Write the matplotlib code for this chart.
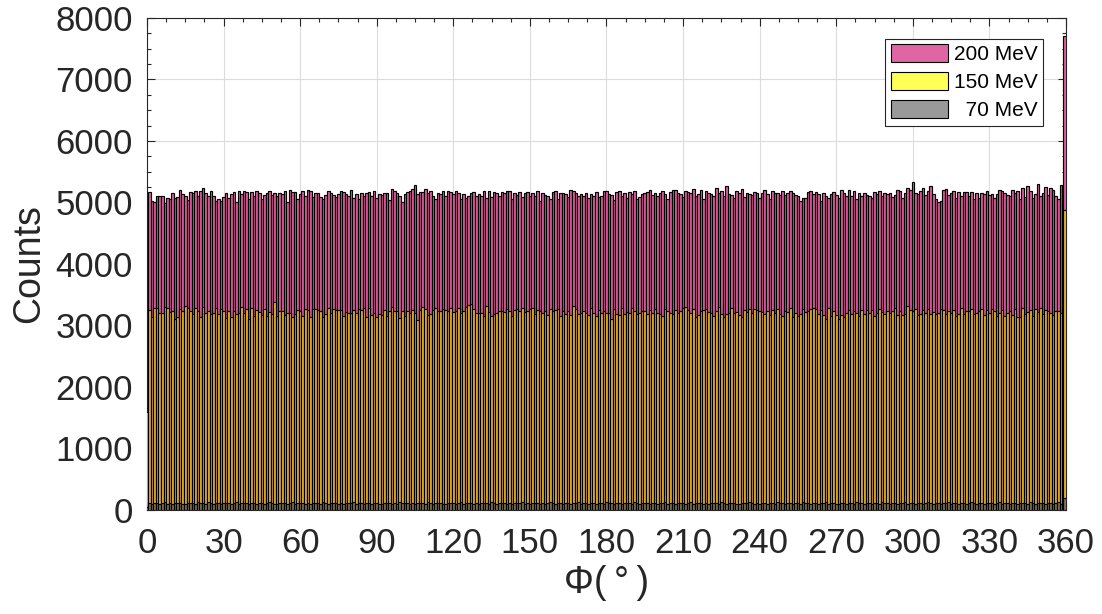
import numpy as np
import matplotlib.pyplot as plt
from matplotlib.patches import Patch
from matplotlib.ticker import MultipleLocator

plt.rcParams['font.family'] = ['Liberation Sans', 'DejaVu Sans']

# Центры бинов (градусы)
phi = np.arange(0, 361)

# 200 MeV
counts_200 = [2600,
    5170, 5020, 5000, 5100, 5100, 5110, 4990, 5080, 5050, 5160,
    5080, 5090, 5200, 5140, 5110, 5040, 5170, 5150, 5190, 5100,
    5180, 5240, 5160, 5110, 5180, 5110, 5020, 5060, 5020, 5090,
    5160, 5080, 5130, 5170, 5010, 5190, 5140, 5190, 5170, 5050,
    5170, 5100, 5190, 5160, 5050, 5120, 5150, 5190, 5120, 5160,
    5100, 5150, 5140, 5190, 5000, 5200, 5170, 5170, 5050, 5140,
    5180, 5110, 5200, 5190, 5090, 5160, 5150, 5090, 5050, 5120,
    5190, 5150, 5120, 5090, 5130, 5190, 5170, 5130, 5110, 5200,
    5080, 5130, 5050, 5150, 5110, 5160, 5170, 5100, 5180, 5070,
    5130, 5120, 5160, 5150, 5040, 5220, 5190, 5160, 5100, 5010,
    5140, 5170, 5180, 5220, 5280, 5140, 5170, 5170, 5220, 5150,
    5190, 5100, 5050, 5150, 5130, 5180, 5100, 5190, 5170, 5140,
    5180, 5160, 5050, 5130, 5070, 5110, 5160, 5170, 5100, 5140,
    5110, 5180, 5070, 5180, 5090, 5170, 5150, 5110, 5170, 5150,
    5180, 5180, 5060, 5160, 5120, 5170, 5090, 5150, 5170, 5110,
    5160, 5110, 5180, 5020, 5150, 5120, 5100, 5060, 5170, 5190,
    5050, 5150, 5150, 5140, 5090, 5200, 5180, 5160, 5100, 5140,
    5110, 5160, 5080, 5140, 5100, 5170, 5090, 5110, 5180, 5190,
    5130, 5120, 5040, 5170, 5190, 5110, 5150, 5080, 5170, 5130,
    5180, 5050, 5090, 5130, 5160, 5170, 5200, 5120, 5160, 5100,
    5150, 5190, 5140, 5060, 5170, 5200, 5210, 5160, 5130, 5090,
    5180, 5170, 5150, 5220, 5110, 5140, 5200, 5060, 5190, 5150,
    5140, 5100, 5230, 5160, 5180, 5110, 5270, 5140, 5120, 5070,
    5180, 5150, 5220, 5090, 5160, 5130, 5120, 5170, 5160, 5080,
    5150, 5210, 5140, 5060, 5190, 5160, 5150, 5120, 5190, 5120,
    5160, 5190, 5150, 5120, 5100, 5020, 5070, 5080, 5170, 5180,
    5140, 5170, 5130, 5020, 5150, 5100, 5080, 5140, 5170, 5120,
    5080, 5200, 5160, 5110, 5200, 5100, 5190, 5050, 5160, 5110,
    5160, 5120, 5110, 5080, 5170, 5140, 5190, 5100, 5150, 5130,
    5150, 5090, 5120, 5210, 5190, 5080, 5150, 5230, 5210, 5330,
    5150, 5140, 5180, 5240, 5120, 5190, 5270, 5140, 5060, 5000,
    5020, 5200, 5220, 5120, 5160, 5180, 5080, 5170, 5110, 5170,
    5170, 5110, 5170, 5050, 5150, 5080, 5160, 5130, 5190, 5120,
    5130, 5080, 5140, 5200, 5180, 5150, 5120, 5100, 5200, 5150,
    5180, 5050, 5230, 5090, 5260, 5180, 5070, 5140, 5300, 5110,
    5150, 5250, 5120, 5240, 5200, 5110, 5060, 5280, 5250, 7700]

# 150 MeV
counts_150 = [1600,
    3250, 3130, 3280, 3290, 3200, 3200, 3300, 3280, 3220, 3240,
    3110, 3130, 3260, 3240, 3310, 3280, 3230, 3180, 3280, 3230,
    3140, 3300, 3200, 3230, 3190, 3200, 3280, 3190, 3260, 3230,
    3120, 3240, 3130, 3230, 3190, 3210, 3300, 3210, 3270, 3100,
    3280, 3150, 3250, 3220, 3170, 3270, 3160, 3220, 3190, 3380,
    3160, 3240, 3230, 3170, 3200, 3210, 3140, 3180, 3250, 3230,
    3150, 3260, 3250, 3130, 3270, 3260, 3250, 3240, 3140, 3190,
    3290, 3200, 3270, 3250, 3250, 3250, 3160, 3220, 3210, 3200,
    3250, 3200, 3260, 3250, 3280, 3130, 3280, 3170, 3200, 3140,
    3180, 3170, 3250, 3160, 3240, 3300, 3230, 3240, 3120, 3240,
    3160, 3230, 3210, 3250, 3200, 3090, 3250, 3300, 3260, 3170,
    3190, 3250, 3280, 3240, 3230, 3260, 3250, 3230, 3290, 3220,
    3240, 3290, 3210, 3240, 3300, 3330, 3350, 3260, 3210, 3210,
    3210, 3160, 3320, 3220, 3150, 3180, 3200, 3230, 3240, 3220,
    3270, 3230, 3160, 3250, 3270, 3240, 3290, 3220, 3230, 3260,
    3290, 3190, 3250, 3240, 3200, 3230, 3170, 3260, 3230, 3250,
    3270, 3150, 3230, 3180, 3240, 3170, 3310, 3260, 3180, 3200,
    3230, 3200, 3170, 3280, 3210, 3150, 3250, 3200, 3240, 3210,
    3200, 3100, 3260, 3180, 3170, 3280, 3190, 3220, 3210, 3280,
    3240, 3180, 3210, 3230, 3240, 3180, 3250, 3210, 3260, 3200,
    3190, 3160, 3270, 3240, 3210, 3180, 3250, 3200, 3240, 3290,
    3300, 3250, 3210, 3260, 3140, 3170, 3240, 3250, 3270, 3220,
    3200, 3160, 3240, 3300, 3180, 3130, 3180, 3210, 3280, 3200,
    3220, 3170, 3130, 3250, 3220, 3270, 3200, 3260, 3250, 3230,
    3220, 3190, 3240, 3170, 3250, 3200, 3270, 3190, 3160, 3240,
    3220, 3290, 3140, 3200, 3150, 3180, 3260, 3220, 3240, 3260,
    3290, 3260, 3180, 3250, 3170, 3110, 3280, 3160, 3230, 3170,
    3100, 3170, 3140, 3210, 3250, 3190, 3240, 3200, 3160, 3250,
    3180, 3250, 3210, 3250, 3150, 3200, 3270, 3220, 3190, 3240,
    3200, 3240, 3280, 3170, 3230, 3170, 3180, 3310, 3250, 3240,
    3260, 3170, 3190, 3250, 3210, 3260, 3190, 3220, 3180, 3200,
    3260, 3250, 3190, 3240, 3210, 3250, 3160, 3190, 3290, 3180,
    3240, 3230, 3270, 3190, 3210, 3230, 3270, 3170, 3250, 3200,
    3270, 3230, 3160, 3200, 3250, 3160, 3210, 3240, 3170, 3260,
    3130, 3140, 3280, 3190, 3220, 3250, 3160, 3260, 3220, 3290,
    3180, 3250, 3240, 3200, 3170, 3230, 3240, 3200, 3310, 4870]

# 70 MeV
counts_70 = [55,
    110, 100, 115, 120, 105, 110, 125, 100, 110, 105,
    115, 120, 110, 100, 105, 115, 110, 120, 100, 125,
    110, 115, 105, 130, 110, 100, 120, 110, 105, 115,
    120, 110, 105, 110, 125, 100, 115, 110, 120, 105,
    110, 115, 100, 120, 110, 105, 115, 125, 110, 100,
    105, 120, 110, 115, 100, 110, 125, 105, 110, 120,
    115, 100, 110, 105, 120, 110, 115, 100, 125, 110,
    105, 115, 110, 120, 100, 110, 105, 115, 120, 110,
    125, 100, 110, 115, 105, 120, 110, 100, 115, 110,
    105, 90, 110, 120, 115, 100, 110, 105, 125, 110,
    115, 120, 100, 110, 105, 115, 120, 110, 100, 125,
    110, 105, 115, 120, 110, 100, 105, 115, 110, 120,
    100, 110, 125, 105, 110, 115, 120, 100, 110, 105,
    115, 120, 110, 100, 125, 110, 105, 115, 110, 120,
    105, 110, 100, 115, 120, 110, 125, 105, 110, 100,
    115, 110, 120, 105, 110, 100, 115, 125, 110, 105,
    120, 110, 100, 115, 110, 105, 120, 110, 125, 100,
    110, 115, 105, 120, 110, 100, 115, 110, 105, 125,
    110, 120, 100, 115, 110, 105, 120, 110, 115, 100,
    125, 110, 105, 115, 120, 110, 100, 110, 115, 105,
    120, 110, 125, 100, 115, 110, 105, 120, 110, 115,
    100, 110, 125, 105, 110, 120, 115, 100, 110, 105,
    115, 120, 110, 100, 125, 110, 105, 115, 120, 110,
    100, 105, 115, 110, 120, 125, 110, 100, 115, 105,
    110, 120, 100, 115, 110, 105, 125, 110, 120, 100,
    115, 110, 105, 120, 110, 100, 125, 115, 110, 105,
    120, 110, 100, 115, 110, 125, 105, 110, 120, 100,
    90, 110, 115, 105, 120, 110, 100, 125, 110, 115,
    105, 120, 110, 100, 115, 110, 105, 125, 110, 120,
    100, 115, 110, 105, 120, 110, 125, 100, 115, 110,
    105, 120, 110, 100, 115, 125, 110, 105, 120, 110,
    100, 115, 110, 125, 105, 120, 110, 100, 115, 110,
    105, 120, 125, 110, 100, 115, 110, 105, 120, 110,
    115, 100, 110, 125, 105, 120, 110, 100, 115, 110,
    105, 120, 110, 115, 100, 125, 110, 105, 120, 110,
    115, 100, 110, 120, 105, 110, 125, 100, 115, 195]

labels = ['200 MeV', '150 MeV', '  70 MeV']
bar_colors = ['#E35EA2', '#E6B22E', '#7E7250']
legend_colors = ['#E066A3', '#FFFF55', '#999999']

# крайние бины шире, чтобы было видно половинку у краёв
widths = np.ones(len(phi))
widths[0] = 2.0
widths[-1] = 2.0

fig = plt.figure(figsize=(11.02, 6.14), dpi=100)
ax = fig.add_axes([0.1334, 0.1694, 0.8339, 0.8013])

for i, c in enumerate([counts_200, counts_150, counts_70]):
    ax.bar(phi, c, width=widths, color=bar_colors[i], edgecolor='black',
           linewidth=0.85, zorder=2 + i)

ax.set_xlim(0, 360)
ax.set_ylim(0, 8000)
ax.xaxis.set_major_locator(MultipleLocator(30))
ax.xaxis.set_minor_locator(MultipleLocator(7.5))
ax.yaxis.set_major_locator(MultipleLocator(1000))
ax.yaxis.set_minor_locator(MultipleLocator(250))
ax.grid(True, which='major', color='#DCDCDC', linewidth=0.8, zorder=0)
ax.set_axisbelow(True)

ax.tick_params(which='both', direction='in', top=True, right=True,
               colors='#262626', labelsize=25, width=0.8)
ax.tick_params(which='major', length=6)
ax.tick_params(which='minor', length=3)
ax.tick_params(axis='x', pad=12)
ax.tick_params(axis='y', pad=10)
for s in ax.spines.values():
    s.set_color('#262626')
    s.set_linewidth(0.8)

ax.set_xlabel('Φ(\u2009°\u2009)', fontsize=27, color='#262626', labelpad=4)
ax.set_ylabel('Counts', fontsize=27, color='#262626', labelpad=6)

handles = [Patch(facecolor=legend_colors[i], edgecolor='black', linewidth=0.8)
           for i in range(3)]
leg = ax.legend(handles, labels, loc='upper right',
                bbox_to_anchor=(1043 / 1102, 1 - 39 / 614),
                bbox_transform=fig.transFigure, fontsize=15,
                handlelength=2.75, handleheight=0.95, labelspacing=0.38,
                handletextpad=0.3, borderpad=0.25, borderaxespad=0,
                fancybox=False, framealpha=1, edgecolor='#262626')
leg.get_frame().set_linewidth(0.8)
leg.set_zorder(10)

fig.savefig('out.png', dpi=100)
